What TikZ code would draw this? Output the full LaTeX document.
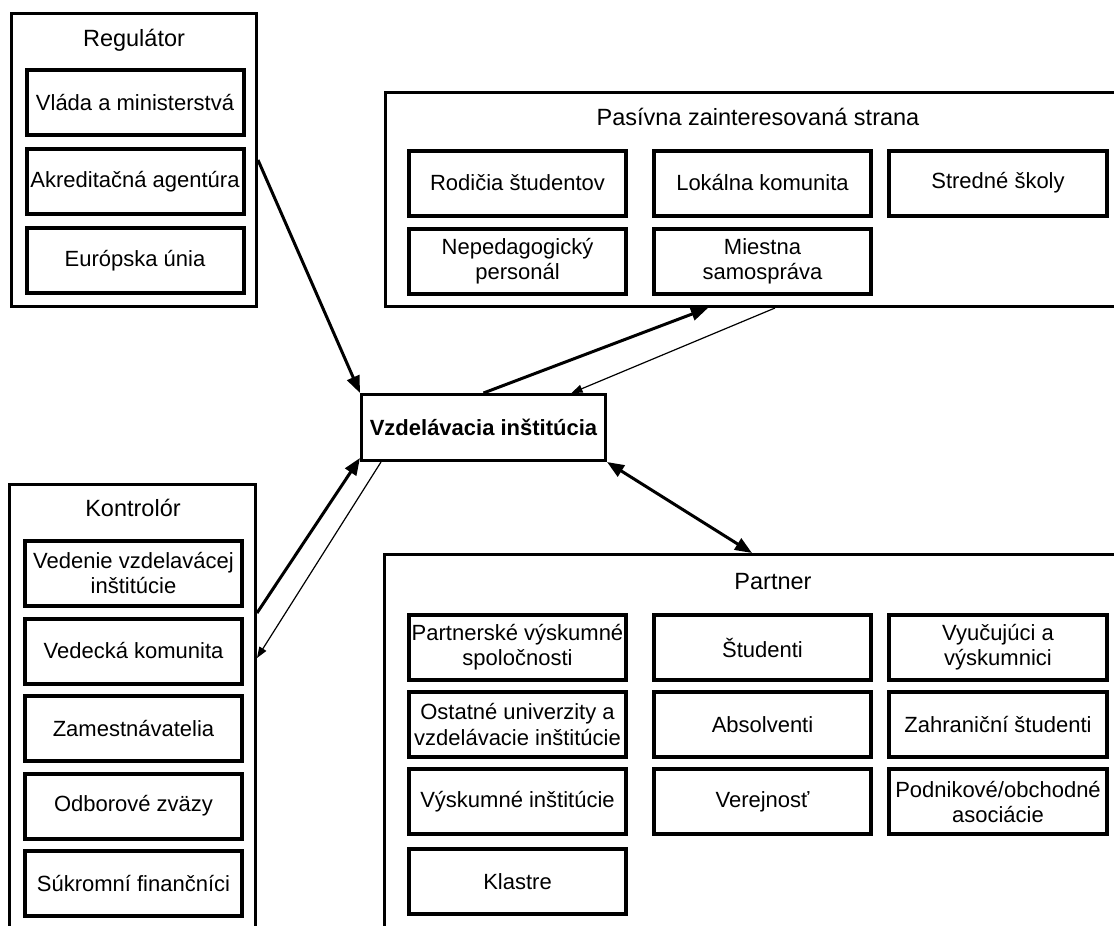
\documentclass[tikz,border=0pt]{standalone}
\usepackage{fontspec}
\setmainfont{Liberation Sans}
\usetikzlibrary{arrows.meta,positioning}
\begin{document}
\begin{tikzpicture}[x=1pt,y=-1pt,node distance=9pt,>={Triangle[length=17pt,width=13pt]}]
\tikzstyle{box}=[rectangle,draw=black,line width=4pt,align=center,inner sep=1pt,minimum width=217pt,minimum height=65pt,font=\fontsize{22}{25}\selectfont]
\tikzstyle{group}=[rectangle,draw=black,line width=3pt]
\tikzstyle{head}=[font=\fontsize{23.5}{27}\selectfont]
\tikzstyle{link}=[line width=3pt]
\tikzstyle{weak}=[line width=1.2pt,-{Triangle[length=11pt,width=8pt]}]
\useasboundingbox (0,0) rectangle (1114,926);
\clip (0,0) rectangle (1114,926);
\node[group,minimum width=245pt,minimum height=293pt] (reg) at (134,160) {};
\node[group,minimum width=246pt,minimum height=474pt] (kon) at (132.5,721.5) {};
\node[group,minimum width=745pt,minimum height=214pt] (pas) at (758,199.5) {};
\node[group,minimum width=777pt,minimum height=404pt] (par) at (773,756.5) {};
\node[group,minimum width=244pt,minimum height=66pt,font=\bfseries\fontsize{22}{25}\selectfont] (cen) at (483.5,427.5) {Vzdelávacia inštitúcia};
\node[head] (regt) at (134,40) {Regulátor};
\node[head] (kont) at (133,508) {Kontrolór};
\node[head] (past) at (758,117) {Pasívna zainteresovaná strana};
\node[head] (part) at (773,582) {Partner};
\node[box] (vlada) at (135,102.5) {Vláda a ministerstvá};
\node[box,below=10pt of vlada] (akred) {Akreditačná agentúra};
\node[box,below=10pt of akred] (eu) {Európska únia};
\node[box] (vedenie) at (133.5,573.5) {Vedenie vzdelavácej\\inštitúcie};
\node[box,below=8.5pt of vedenie] (vedecka) {Vedecká komunita};
\node[box,below=8.5pt of vedecka] (zamest) {Zamestnávatelia};
\node[box,below=8.5pt of zamest] (odbory) {Odborové zväzy};
\node[box,below=8.5pt of odbory] (sukromni) {Súkromní finančníci};
\node[box] (rodicia) at (517.5,183) {Rodičia študentov};
\node[box,right=24pt of rodicia] (lokalna) {Lokálna komunita};
\node[box,right=14pt of lokalna,minimum width=218pt] (stredne) {Stredné školy};
\node[box,below=of rodicia] (neped) {Nepedagogický\\personál};
\node[box,below=of lokalna] (miestna) {Miestna\\samospráva};
\node[box] (pvs) at (517.5,647.5) {Partnerské výskumné\\spoločnosti};
\node[box,below=8pt of pvs] (ostatne) {Ostatné univerzity a\\vzdelávacie inštitúcie};
\node[box,below=8pt of ostatne] (vyskumne) {Výskumné inštitúcie};
\node[box,below=11pt of vyskumne] (klastre) {Klastre};
\node[box,right=24pt of pvs] (studenti) {Študenti};
\node[box,below=8pt of studenti] (absolventi) {Absolventi};
\node[box,below=8pt of absolventi] (verejnost) {Verejnosť};
\node[box,right=14pt of studenti,minimum width=218pt] (vyucujuci) {Vyučujúci a\\výskumnici};
\node[box,below=8pt of vyucujuci,minimum width=218pt] (zahranicni) {Zahraniční študenti};
\node[box,below=8pt of zahranicni,minimum width=218pt] (podnikove) {Podnikové/obchodné\\asociácie};
\draw[link,->] (reg.east) -- (cen.north west);
\draw[link,->] (cen.north) -- ([xshift=-50pt]pas.south);
\draw[weak] ([xshift=17pt]pas.south) -- ([xshift=88pt]cen.north);
\draw[link,<->] (cen.south east) -- ([xshift=-21pt]par.north);
\draw[link,->] ([yshift=-130pt]kon.north east) -- ([yshift=4pt]cen.south west);
\draw[weak] ([xshift=21pt]cen.south west) -- ([yshift=-175pt]kon.north east);
\end{tikzpicture}
\end{document}
